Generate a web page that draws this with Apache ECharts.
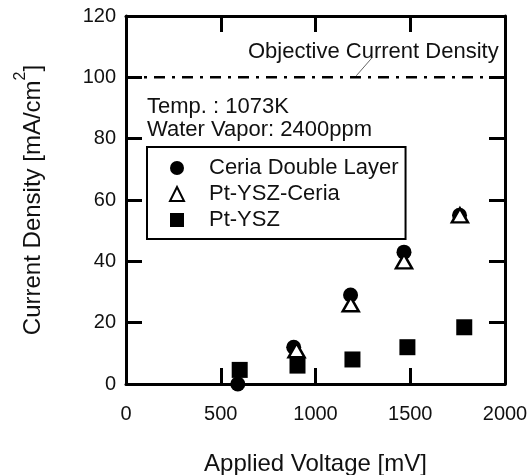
<!DOCTYPE html>
<html>
<head>
<meta charset="utf-8">
<script src="https://cdn.jsdelivr.net/npm/echarts@6/dist/echarts.min.js"></script>
<style>
  html, body { margin: 0; padding: 0; background: #fff; }
  #chart { width: 532px; height: 475px; }
</style>
</head>
<body>
<div id="chart"></div>
<script>
// data
const ceriaVoltage = [590, 885, 1185, 1467, 1760]
const ceriaDensity = [0, 12, 29, 43, 55]
const ptCeriaVoltage = [900, 1186, 1467, 1762]
const ptCeriaDensity = [11, 26, 40, 55]
const ptYszVoltage = [600, 905, 1195, 1485, 1785]
const ptYszDensity = [4.6, 6, 8, 12, 18.5]
const objectiveDensity = 100
const leaderX = [1300, 1215]
const leaderY = [106.5, 100.5]

const font = "'Liberation Sans', Arial, sans-serif"

function pairs(xs, ys) {
  return xs.map((x, i) => [x, ys[i]])
}

const chart = echarts.init(document.getElementById('chart'))

const axisLine = { onZero: false, lineStyle: { color: '#000', width: 3 } }
const axisTick = { inside: true, length: 16, lineStyle: { color: '#000', width: 3 } }

chart.setOption({
  backgroundColor: '#fff',
  animation: false,
  grid: {
    left: 126,
    right: 27,
    top: 16,
    bottom: 91,
    outerBoundsMode: 'none'
  },
  legend: {
    orient: 'vertical',
    left: 147,
    top: 147,
    padding: [10, 7, 8, 22],
    itemGap: 4,
    itemWidth: 14,
    itemHeight: 14,
    borderColor: '#000',
    borderWidth: 2,
    borderRadius: 0,
    textStyle: {
      fontFamily: font,
      fontSize: 22,
      lineHeight: 22,
      padding: [0, 0, 0, 20],
      color: '#111'
    },
    data: ['Ceria Double Layer', 'Pt-YSZ-Ceria', 'Pt-YSZ']
  },
  graphic: [{
    type: 'text',
    left: 248,
    top: 41,
    style: {
      text: 'Objective Current Density',
      font: '22px ' + font,
      fill: '#111'
    }
  }, {
    type: 'text',
    left: 147,
    top: 95,
    style: {
      text: 'Temp. : 1073K\nWater Vapor: 2400ppm',
      font: '22px ' + font,
      lineHeight: 23,
      fill: '#111'
    }
  }],
  xAxis: [{
    type: 'value',
    position: 'bottom',
    min: 0,
    max: 2000,
    interval: 500,
    name: 'Applied Voltage [mV]',
    nameLocation: 'middle',
    nameGap: 68,
    nameTextStyle: { fontFamily: font, fontSize: 24, color: '#111' },
    axisLine: axisLine,
    axisTick: axisTick,
    axisLabel: { margin: 20, fontFamily: font, fontSize: 20, color: '#111', formatter: v => String(v) },
    splitLine: { show: false }
  }, {
    type: 'value',
    position: 'top',
    min: 0,
    max: 2000,
    interval: 500,
    axisLine: axisLine,
    axisTick: axisTick,
    axisLabel: { show: false },
    splitLine: { show: false }
  }],
  yAxis: [{
    type: 'value',
    position: 'left',
    min: 0,
    max: 120,
    interval: 20,
    name: '{a|Current Density [mA/cm}{s|2}{a|]}',
    nameLocation: 'middle',
    nameGap: 81,
    nameTextStyle: {
      color: '#111',
      rich: {
        a: { fontFamily: font, fontSize: 24, lineHeight: 32, verticalAlign: 'bottom', color: '#111' },
        s: { fontFamily: font, fontSize: 16, verticalAlign: 'top', color: '#111' }
      }
    },
    axisLine: axisLine,
    axisTick: axisTick,
    axisLabel: { margin: 10, fontFamily: font, fontSize: 20, color: '#111' },
    splitLine: { show: false }
  }, {
    type: 'value',
    position: 'right',
    min: 0,
    max: 120,
    interval: 20,
    axisLine: axisLine,
    axisTick: axisTick,
    axisLabel: { show: false },
    splitLine: { show: false }
  }],
  series: [{
    name: 'Objective',
    type: 'line',
    silent: true,
    symbol: 'none',
    lineStyle: { color: '#000', width: 2.5, type: [11, 7, 3, 7] },
    data: [[0, objectiveDensity], [2000, objectiveDensity]]
  }, {
    name: 'Leader',
    type: 'line',
    silent: true,
    symbol: 'none',
    lineStyle: { color: '#666', width: 1 },
    data: pairs(leaderX, leaderY)
  }, {
    name: 'Ceria Double Layer',
    type: 'scatter',
    clip: false,
    symbol: 'circle',
    symbolSize: 15,
    itemStyle: { color: '#000', opacity: 1 },
    data: pairs(ceriaVoltage, ceriaDensity)
  }, {
    name: 'Pt-YSZ',
    type: 'scatter',
    clip: false,
    symbol: 'rect',
    symbolSize: 16,
    itemStyle: { color: '#000', opacity: 1 },
    data: pairs(ptYszVoltage, ptYszDensity)
  }, {
    name: 'Pt-YSZ-Ceria',
    type: 'scatter',
    clip: false,
    symbol: 'triangle',
    symbolSize: [16, 14],
    itemStyle: { color: '#fff', borderColor: '#000', borderWidth: 2.5, opacity: 1 },
    data: pairs(ptCeriaVoltage, ptCeriaDensity)
  }]
})
</script>
</body>
</html>
